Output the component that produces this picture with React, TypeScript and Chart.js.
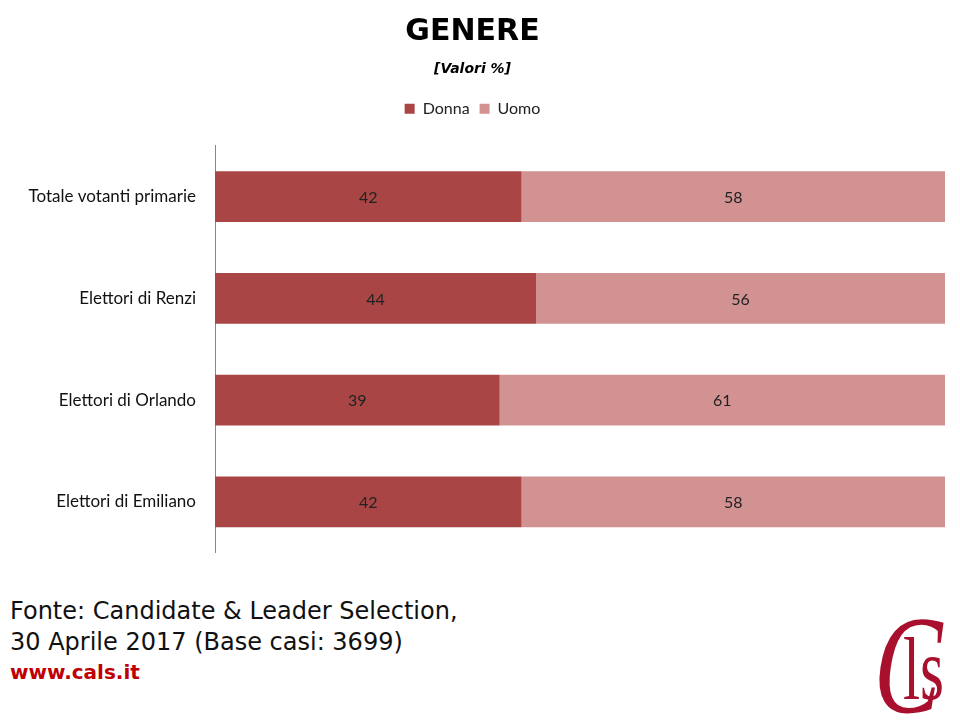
import { useEffect, useRef } from "react";
import { Chart, registerables } from "chart.js";
import type { Plugin } from "chart.js";

Chart.register(...registerables);

const categories = [
    "Totale votanti primarie",
    "Elettori di Renzi",
    "Elettori di Orlando",
    "Elettori di Emiliano",
];
const donna = [42, 44, 39, 42];
const uomo = [58, 56, 61, 58];

const DONNA_COLOR = "#A94645";
const UOMO_COLOR = "#D29291";

// writes each value in the middle of its bar segment
const valueLabels: Plugin<"bar"> = {
    id: "valueLabels",
    afterDatasetsDraw(chart) {
        const ctx = chart.ctx;
        ctx.save();
        ctx.font = "16px Lato";
        ctx.fillStyle = "#222";
        ctx.textAlign = "center";
        ctx.textBaseline = "middle";
        chart.data.datasets.forEach((ds, di) => {
            const meta = chart.getDatasetMeta(di);
            meta.data.forEach((el, i) => {
                const p = el.getCenterPoint();
                ctx.fillText(String(ds.data[i]), p.x, p.y + 1);
            });
        });
        ctx.restore();
    },
};

// extra room under the legend
const legendSpacer: Plugin<"bar"> = {
    id: "legendSpacer",
    beforeInit(chart: any) {
        const legend = chart.legend;
        if (!legend) return;
        const fit = legend.fit;
        legend.fit = function () {
            fit.bind(legend)();
            this.height += 19;
        };
    },
};

function GenderChart() {
    const canvasRef = useRef<HTMLCanvasElement | null>(null);
    const chartInstance = useRef<Chart | null>(null);

    useEffect(() => {
        if (!canvasRef.current) return;
        chartInstance.current = new Chart(canvasRef.current, {
            type: "bar",
            data: {
                labels: categories,
                datasets: [
                    { label: "Donna", data: donna, backgroundColor: DONNA_COLOR },
                    { label: "Uomo", data: uomo, backgroundColor: UOMO_COLOR },
                ],
            },
            options: {
                indexAxis: "y",
                animation: false,
                responsive: false,
                devicePixelRatio: 1,
                layout: { padding: { left: 0, right: 15, bottom: 8, top: 0 } },
                datasets: {
                    bar: { categoryPercentage: 1, barPercentage: 0.5 },
                },
                plugins: {
                    title: {
                        display: true,
                        text: "GENERE",
                        color: "#000",
                        font: { family: "DejaVu Sans", size: 30, weight: "bold" },
                        padding: { top: 14, bottom: 0 },
                    },
                    subtitle: {
                        display: true,
                        text: "[Valori %]",
                        color: "#000",
                        font: { family: "DejaVu Sans", size: 14, weight: "bold", style: "italic" },
                        padding: { top: 11, bottom: 13 },
                    },
                    legend: {
                        display: true,
                        labels: {
                            boxWidth: 10,
                            boxHeight: 10,
                            color: "#222",
                            font: { family: "Lato", size: 16 },
                            padding: 10,
                        },
                    },
                    tooltip: { enabled: false },
                },
                scales: {
                    x: {
                        stacked: true,
                        min: 0,
                        max: 100,
                        display: false,
                    },
                    y: {
                        stacked: true,
                        grid: { display: false },
                        border: { display: true, color: "#888" },
                        ticks: {
                            color: "#111",
                            font: { family: "Lato", size: 17 },
                            padding: 11,
                        },
                        afterFit(scale) {
                            scale.width = 215;
                        },
                    },
                },
            },
            plugins: [valueLabels, legendSpacer],
        });

        return () => {
            if (chartInstance.current) {
                chartInstance.current.destroy();
            }
        };
    }, []);

    return (
        <div style={{ position: "absolute", left: 0, top: 0, width: 960, height: 574 }}>
            <canvas ref={canvasRef} width={960} height={574} />
        </div>
    );
}

export default function App() {
    return (
        <div style={{ position: "absolute", left: 0, top: 0, width: 960, height: 720, background: "#fff", overflow: "hidden" }}>
            <GenderChart />
            <div style={{ position: "absolute", left: 10, top: 596, fontFamily: "DejaVu Sans", fontSize: 24, lineHeight: "31px", color: "#111", whiteSpace: "nowrap" }}>
                <div>Fonte: Candidate &amp; Leader Selection,</div>
                <div>30 Aprile 2017 (Base casi: 3699)</div>
                <div style={{ color: "#C00000", fontWeight: "bold", fontSize: 20, lineHeight: "28px" }}>www.cals.it</div>
            </div>
            <div style={{ position: "absolute", left: 0, top: 0, width: 960, height: 720, color: "#A8102E", fontFamily: "Liberation Serif" }}>
                <span style={{ position: "absolute", left: 866, top: 595, fontSize: 140, lineHeight: "140px", transform: "scaleX(0.72) skewX(-12deg)", transformOrigin: "left bottom" }}>C</span>
                <span style={{ position: "absolute", left: 903, top: 626, fontSize: 88, lineHeight: "88px", transform: "scaleX(0.7)", transformOrigin: "left top" }}>ls</span>
            </div>
        </div>
    );
}
